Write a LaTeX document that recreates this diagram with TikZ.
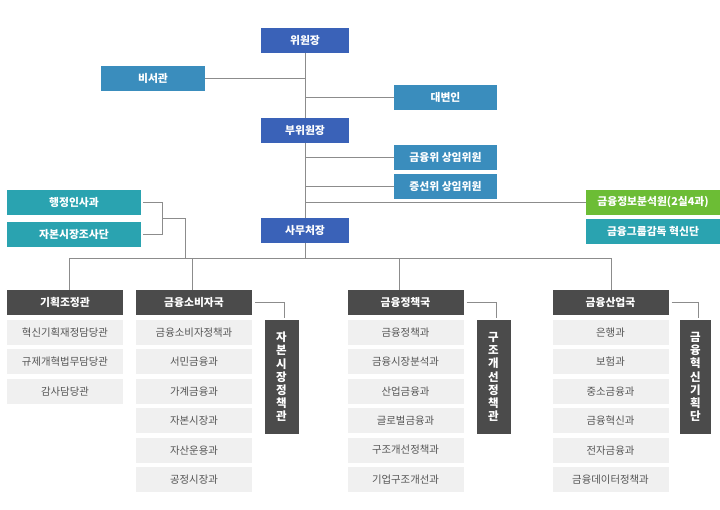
\documentclass[tikz,border=0pt]{standalone}
\usepackage{fontspec}
\setmainfont{Noto Sans CJK KR}
\usetikzlibrary{calc}

\definecolor{chairblue}{HTML}{3A62B8}
\definecolor{secblue}{HTML}{3A8DBD}
\definecolor{tealbox}{HTML}{2AA3B0}
\definecolor{greenbox}{HTML}{6CBD35}
\definecolor{darkbox}{HTML}{4B4B4B}
\definecolor{lightbox}{HTML}{F0F0F0}
\definecolor{subtext}{HTML}{555555}
\definecolor{linegray}{HTML}{8C8C8C}

\begin{document}
\begin{tikzpicture}[x=1pt, y=-1pt,
		box/.style={minimum height=25pt, inner sep=0pt, text=white, font=\bfseries\fontsize{10.8}{12}\selectfont},
		top/.style={box, fill=chairblue, minimum width=88pt},
		side/.style={box, fill=secblue, minimum width=103pt},
		wide/.style={box, fill=tealbox, minimum width=134pt},
		head/.style={box, fill=darkbox, minimum width=116pt},
		unit/.style={minimum height=25pt, minimum width=116pt, inner sep=0pt, fill=lightbox, text=subtext, font=\fontsize{10.4}{12}\selectfont},
		vert/.style={box, fill=darkbox, minimum width=34pt, minimum height=114pt, align=center, font=\bfseries\fontsize{11.5}{13.2}\selectfont},
		link/.style={draw=linegray, line width=0.8pt}]
		\useasboundingbox (0,0) rectangle (720,509);

		% top of the chart
		\node[top] (chair) at (305,40.5) {위원장};
		\node[side, minimum width=104pt] (sec) at (153,78.5) {비서관};
		\node[side] (spk) at (445.5,97) {대변인};
		\node[top] (vice) at (305,130.5) {부위원장};
		\node[side] (fsc) at (445.5,157) {금융위 상임위원};
		\node[side] (sfc) at (445.5,186) {증선위 상임위원};
		\node[wide, fill=greenbox] (fiu) at (653,202) {금융정보분석원(2실4과)};
		\node[wide] (grp) at (653,231.5) {금융그룹감독 혁신단};
		\node[wide] (hr) at (74,202) {행정인사과};
		\node[wide] (inv) at (74,234) {자본시장조사단};
		\node[top] (sg) at (305,230.5) {사무처장};

		\coordinate (brk) at (162,218);
		\coordinate (busL) at (69,258);
		\coordinate (busR) at (611,258);
		\coordinate (hrdrop) at (185,258);

		\draw[link] (chair.south) -- (vice.north);
		\draw[link] (vice.south) -- (sg.north);
		\draw[link] (sg.south) -- (sg.south |- busL);
		\foreach \n in {sec}
			\draw[link] (\n.east) -- (\n.east -| chair.south);
		\foreach \n in {spk,fsc,sfc,fiu}
			\draw[link] (\n.west) -- (\n.west -| chair.south);
		\draw[link, shorten <=2pt] (hr.east) -| (brk);
		\draw[link, shorten <=2pt] (inv.east) -| (brk);
		\draw[link] (brk) -| (hrdrop);
		\draw[link] (busL) -- (busR);

		% bureaus
		\node[head] (plan) at (65,302.5) {기획조정관};
		\node[head] (cons) at (194,302.5) {금융소비자국};
		\node[head] (pol) at (405.5,302.5) {금융정책국};
		\node[head] (ind) at (610.5,302.5) {금융산업국};

		\foreach \x in {69,192,399,611}
			\draw[link] (\x,258) -- (\x,290);

		\foreach \t [count=\i from 0] in {혁신기획재정담당관,규제개혁법무담당관,감사담당관}
			\node[unit] (plan\i) at (65,332.5+29.4*\i) {\t};
		\foreach \t [count=\i from 0] in {금융소비자정책과,서민금융과,가계금융과,자본시장과,자산운용과,공정시장과}
			\node[unit] (cons\i) at (194,332.5+29.4*\i) {\t};
		\foreach \t [count=\i from 0] in {금융정책과,금융시장분석과,산업금융과,글로벌금융과,구조개선정책과,기업구조개선과}
			\node[unit] (pol\i) at (405.5,332.5+29.4*\i) {\t};
		\foreach \t [count=\i from 0] in {은행과,보험과,중소금융과,금융혁신과,전자금융과,금융데이터정책과}
			\node[unit] (ind\i) at (610.5,332.5+29.4*\i) {\t};

		\node[vert] (consv) at (281.5,377) {자\\본\\시\\장\\정\\책\\관};
		\node[vert] (polv) at (493.5,377) {구\\조\\개\\선\\정\\책\\관};
		\node[vert, minimum width=31pt] (indv) at (695.5,377) {금\\융\\혁\\신\\기\\획\\단};

		\foreach \h in {cons,pol,ind}
			\draw[link, shorten <=3pt, shorten >=2pt] (\h.east) -| ($(\h v.north)+(3,0)$);
	\end{tikzpicture}
\end{document}
